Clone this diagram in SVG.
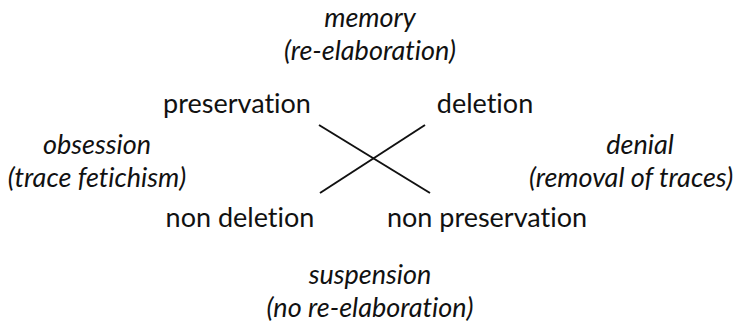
<svg xmlns="http://www.w3.org/2000/svg" width="741" height="330" viewBox="0 0 741 330">
<style>
text{font-family:Lato,"Open Sans","DejaVu Sans",sans-serif;fill:#111;text-anchor:middle;font-variant-ligatures:none;font-feature-settings:"liga" 0}
.r{font-size:27px}
.i{font-size:27px;font-style:italic}
.c{stroke:#111;stroke-width:2;fill:none}
</style>
<rect width="741" height="330" fill="#fff"/>
<g id="connectors">
<line class="c" x1="319" y1="125" x2="430" y2="193"/>
<line class="c" x1="320" y1="193" x2="425" y2="125"/>
</g>
<g id="memory"><text class="i" x="370" y="27">memory</text><text class="i" x="370" y="60">(re-elaboration)</text></g>
<g id="preservation"><text class="r" x="237" y="113">preservation</text></g>
<g id="deletion"><text class="r" x="485" y="113">deletion</text></g>
<g id="obsession"><text class="i" x="97" y="154">obsession</text><text class="i" x="97" y="187">(trace fetichism)</text></g>
<g id="denial"><text class="i" x="640" y="154">denial</text><text class="i" x="631" y="187">(removal of traces)</text></g>
<g id="non-deletion"><text class="r" x="240" y="227">non deletion</text></g>
<g id="non-preservation"><text class="r" x="487" y="227">non preservation</text></g>
<g id="suspension"><text class="i" x="370" y="284">suspension</text><text class="i" x="370" y="317">(no re-elaboration)</text></g>
</svg>
